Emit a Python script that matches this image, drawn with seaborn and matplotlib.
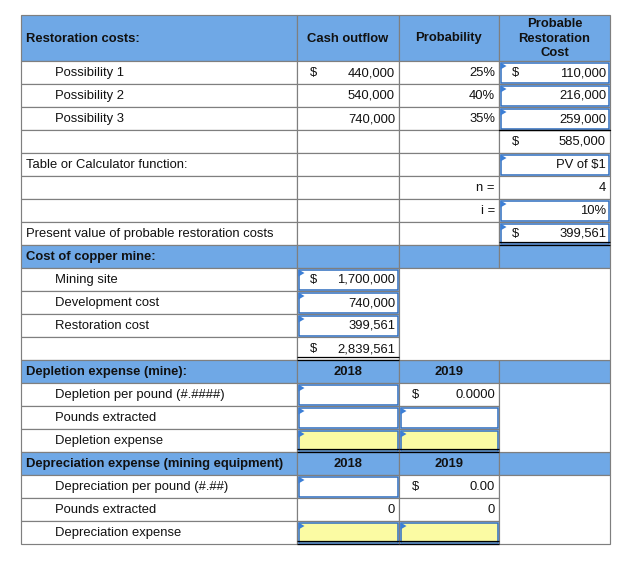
import matplotlib
matplotlib.use("Agg")
import matplotlib.pyplot as plt
from matplotlib.patches import Rectangle, Polygon
import seaborn as sns

sns.set_style("white")
plt.rcParams["font.family"] = ["Liberation Sans", "DejaVu Sans"]

# ---- table values ----
header_cols = ["Cash outflow", "Probability", "Probable\nRestoration\nCost"]
possibilities = ["Possibility 1", "Possibility 2", "Possibility 3"]
cash_outflow = [440000, 540000, 740000]
probability = [0.25, 0.40, 0.35]
probable_cost = [110000, 216000, 259000]
total_probable = 585000
pv_label = "PV of $1"
n_periods = 4
rate = 0.10
pv_restoration = 399561
mine_items = ["Mining site", "Development cost", "Restoration cost"]
mine_costs = [1700000, 740000, 399561]
mine_total = 2839561
years = ["2018", "2019"]
depletion_items = ["Depletion per pound (#.####)", "Pounds extracted", "Depletion expense"]
depletion_rate_2019 = 0.0
depreciation_items = ["Depreciation per pound (#.##)", "Pounds extracted", "Depreciation expense"]
depreciation_rate_2019 = 0.0
depreciation_pounds = [0, 0]

# ---- layout (pixels) ----
X = [21, 297, 399, 499, 610]
TOPS = [15] + [61 + 23 * i for i in range(22)]
BLUE = "#6FA8E6"
YELLOW = "#FBFBA3"
GRID = "#7f7f7f"
INPUT = "#2F6EBF"
TXT = "#111111"
FS = 9.4

fig = plt.figure(figsize=(6.37, 5.70), dpi=100)
ax = fig.add_axes([0, 0, 1, 1])
ax.set_xlim(0, 637)
ax.set_ylim(570, 0)
ax.axis("off")


def box(r, c, r2=None, c2=None, fill="white", edge=GRID):
    r2 = r if r2 is None else r2
    c2 = c if c2 is None else c2
    ax.add_patch(Rectangle((X[c], TOPS[r]), X[c2 + 1] - X[c], TOPS[r2 + 1] - TOPS[r],
                           facecolor=fill, edgecolor=edge, lw=0.85, zorder=1))


def input_cell(r, c, fill="white"):
    x0, x1 = X[c] + 1.5, X[c + 1] - 1.5
    y0, y1 = TOPS[r] + 1.5, TOPS[r + 1] - 1.5
    ax.add_patch(Rectangle((x0, y0), x1 - x0, y1 - y0, facecolor=fill,
                           edgecolor=INPUT, lw=1.1, zorder=2))
    ax.add_patch(Polygon([(x0, y0), (x0, y0 + 7), (x0 + 6, y0 + 3.5)],
                         closed=True, facecolor="#3C7FD6", edgecolor="none", zorder=3))


def double_line(r, c):
    yb = TOPS[r + 1]
    for y in (yb - 2.6, yb - 0.2):
        ax.plot([X[c], X[c + 1]], [y, y], color="black", lw=0.9, zorder=4,
                solid_capstyle="butt")


def txt(r, c, s, ha="right", bold=False, x=None):
    yc = (TOPS[r] + TOPS[r + 1]) / 2 + 0.5
    if x is None:
        if ha == "right":
            x = X[c + 1] - 4
        elif ha == "center":
            x = (X[c] + X[c + 1]) / 2
        else:
            x = X[c] + 5
    ax.text(x, yc, s, ha=ha, va="center", fontsize=FS, color=TXT,
            fontweight="bold" if bold else "normal", zorder=5)


def dollar(r, c):
    txt(r, c, "$", ha="center", x=X[c] + 17)


money = lambda v: f"{v:,.0f}"

header_rows = [0, 9, 14, 18]
merged = [(10, 13, 2, 3), (15, 17, 3, 3), (19, 21, 3, 3)]
skip = {(r, c) for (ra, rb, ca, cb) in merged for r in range(ra, rb + 1) for c in range(ca, cb + 1)}

# grid and fills
for r in range(len(TOPS) - 1):
    for c in range(4):
        if (r, c) in skip:
            continue
        box(r, c, fill=BLUE if r in header_rows else "white")
for ra, rb, ca, cb in merged:
    box(ra, ca, rb, cb)

# input cells
inputs = [(1, 3), (2, 3), (3, 3), (5, 3), (7, 3), (8, 3), (10, 1), (11, 1), (12, 1),
          (15, 1), (16, 1), (16, 2), (19, 1)]
for r, c in inputs:
    input_cell(r, c)
for r, c in [(17, 1), (17, 2), (21, 1), (21, 2)]:
    input_cell(r, c, fill=YELLOW)
for r, c in [(8, 3), (13, 1), (17, 1), (17, 2), (21, 1), (21, 2)]:
    double_line(r, c)
ax.plot([X[3], X[4]], [TOPS[4], TOPS[4]], color="black", lw=1.0, zorder=4)

# header
txt(0, 0, "Restoration costs:", ha="left", bold=True)
for c, h in enumerate(header_cols, start=1):
    yc = (TOPS[0] + TOPS[1]) / 2 + 0.5
    ax.text((X[c] + X[c + 1]) / 2, yc, h, ha="center", va="center", fontsize=FS,
            fontweight="bold", color=TXT, linespacing=1.3, zorder=5)

# possibilities
for i, name in enumerate(possibilities):
    r = 1 + i
    txt(r, 0, name, ha="left", x=55)
    txt(r, 1, money(cash_outflow[i]))
    txt(r, 2, f"{probability[i]:.0%}")
    txt(r, 3, money(probable_cost[i]))
dollar(1, 1)
dollar(1, 3)
dollar(4, 3)
txt(4, 3, money(total_probable))
txt(5, 0, "Table or Calculator function:", ha="left")
txt(5, 3, pv_label)
txt(6, 2, "n =")
txt(6, 3, str(n_periods))
txt(7, 2, "i =")
txt(7, 3, f"{rate:.0%}")
txt(8, 0, "Present value of probable restoration costs", ha="left")
dollar(8, 3)
txt(8, 3, money(pv_restoration))

# cost of copper mine
txt(9, 0, "Cost of copper mine:", ha="left", bold=True)
for i, name in enumerate(mine_items):
    txt(10 + i, 0, name, ha="left", x=55)
    txt(10 + i, 1, money(mine_costs[i]))
dollar(10, 1)
dollar(13, 1)
txt(13, 1, money(mine_total))

# depletion
txt(14, 0, "Depletion expense (mine):", ha="left", bold=True)
for c, y in enumerate(years, start=1):
    txt(14, c, y, ha="center", bold=True)
    txt(18, c, y, ha="center", bold=True)
for i, name in enumerate(depletion_items):
    txt(15 + i, 0, name, ha="left", x=55)
dollar(15, 2)
txt(15, 2, f"{depletion_rate_2019:.4f}")

# depreciation
txt(18, 0, "Depreciation expense (mining equipment)", ha="left", bold=True)
for i, name in enumerate(depreciation_items):
    txt(19 + i, 0, name, ha="left", x=55)
dollar(19, 2)
txt(19, 2, f"{depreciation_rate_2019:.2f}")
for c, v in enumerate(depreciation_pounds, start=1):
    txt(20, c, str(v))

fig.savefig("out.png", dpi=100)
